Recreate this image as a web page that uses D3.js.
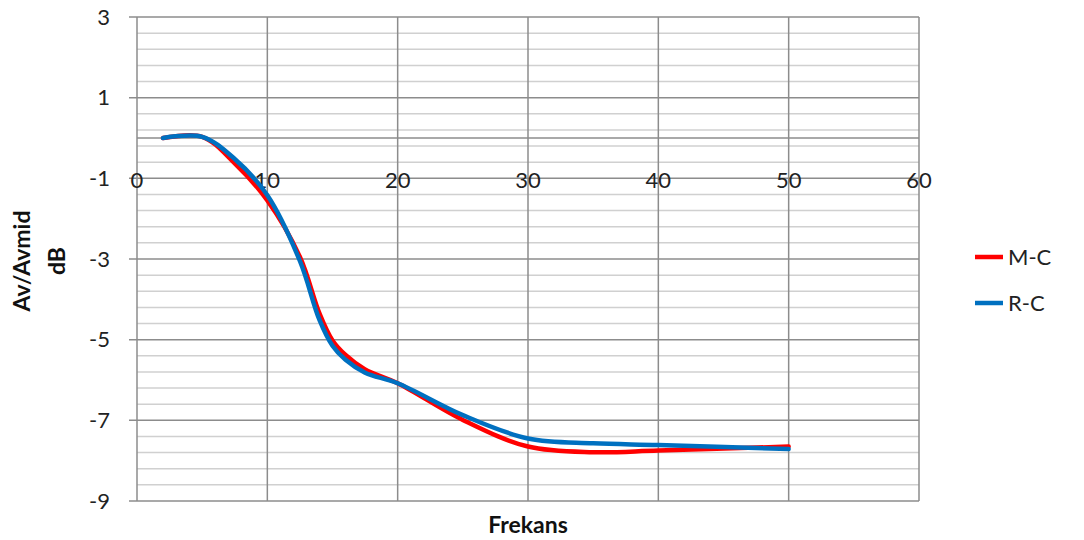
<!DOCTYPE html>
<html>
<head>
<meta charset="utf-8">
<script src="https://cdn.jsdelivr.net/npm/d3@7"></script>
<style>
  html, body { margin: 0; padding: 0; background: #ffffff; }
  svg { display: block; font-family: Lato, "Open Sans", sans-serif; }
</style>
</head>
<body>
<svg id="chart" width="1084" height="540"></svg>
<script>
// Frequency response of the two coupling variants (gain relative to mid-band, dB)
const frequencies = [2, 5, 7.5, 10, 12.5, 14, 15, 16, 17.5, 20, 25, 30, 35, 40, 50];
const mcValues = [0, 0.03, -0.63, -1.55, -2.95, -4.35, -5.02, -5.38, -5.74, -6.08, -6.99, -7.65, -7.79, -7.75, -7.65];
const rcValues = [0, 0.03, -0.52, -1.42, -3.05, -4.51, -5.15, -5.5, -5.82, -6.08, -6.87, -7.45, -7.57, -7.61, -7.71];

const seriesNames = ["M-C", "R-C"];
const seriesColors = ["#ff0000", "#0070c0"];

const xTicks = [0, 10, 20, 30, 40, 50, 60];
const yTicks = [-9, -7, -5, -3, -1, 1, 3];
const yMinorStep = 0.4;

const xTitle = "Frekans";
const yTitleLines = ["Av/Avmid", "dB"];

const svg = d3.select("#chart");

const plot = { left: 137, right: 919, top: 17, bottom: 501 };

const x = d3.scaleLinear().domain([0, 60]).range([plot.left, plot.right]);
const y = d3.scaleLinear().domain([-9, 3]).range([plot.bottom, plot.top]);

// minor horizontal gridlines
const minorVals = d3.range(-9, 3.0001, yMinorStep)
  .map(v => Math.round(v * 10) / 10)
  .filter(v => !yTicks.includes(v));

svg.append("g")
  .selectAll("line")
  .data(minorVals)
  .join("line")
  .attr("x1", plot.left).attr("x2", plot.right)
  .attr("y1", d => y(d)).attr("y2", d => y(d))
  .attr("stroke", "#d0d0d0")
  .attr("stroke-width", 1.5);

// major horizontal gridlines (with ticks out to the left)
svg.append("g")
  .selectAll("line")
  .data(yTicks)
  .join("line")
  .attr("x1", plot.left - 8).attr("x2", plot.right)
  .attr("y1", d => y(d)).attr("y2", d => y(d))
  .attr("stroke", "#8c8c8c")
  .attr("stroke-width", 1.5);

// vertical gridlines
svg.append("g")
  .selectAll("line")
  .data(xTicks)
  .join("line")
  .attr("x1", d => x(d)).attr("x2", d => x(d))
  .attr("y1", plot.top).attr("y2", plot.bottom)
  .attr("stroke", "#8c8c8c")
  .attr("stroke-width", 1.5);

// horizontal axis line at 0 dB
svg.append("line")
  .attr("x1", plot.left).attr("x2", plot.right)
  .attr("y1", y(0)).attr("y2", y(0))
  .attr("stroke", "#8c8c8c")
  .attr("stroke-width", 1.5);

// y tick labels
svg.append("g")
  .selectAll("text")
  .data(yTicks)
  .join("text")
  .attr("x", plot.left - 27)
  .attr("y", d => y(d))
  .attr("dy", "0.35em")
  .attr("text-anchor", "end")
  .attr("font-size", 22)
  .attr("fill", "#222")
  .text(d => d);

// x tick labels, sitting below the 0 dB axis line
svg.append("g")
  .selectAll("text")
  .data(xTicks)
  .join("text")
  .attr("x", d => x(d))
  .attr("y", y(0) + 42)
  .attr("dy", "0.35em")
  .attr("text-anchor", "middle")
  .attr("font-size", 22)
  .attr("fill", "#222")
  .text(d => d);

// series lines (smoothed)
const line = d3.line()
  .x(d => x(d[0]))
  .y(d => y(d[1]))
  .curve(d3.curveCatmullRom.alpha(0.5));

const series = [
  frequencies.map((f, i) => [f, mcValues[i]]),
  frequencies.map((f, i) => [f, rcValues[i]])
];

svg.append("g")
  .selectAll("path")
  .data(series)
  .join("path")
  .attr("d", line)
  .attr("fill", "none")
  .attr("stroke", (d, i) => seriesColors[i])
  .attr("stroke-width", 4.5)
  .attr("stroke-linejoin", "round")
  .attr("stroke-linecap", "round");

// axis titles
svg.append("text")
  .attr("x", 528)
  .attr("y", 525)
  .attr("dy", "0.35em")
  .attr("text-anchor", "middle")
  .attr("font-size", 23)
  .attr("font-weight", "bold")
  .attr("fill", "#111")
  .text(xTitle);

svg.append("g")
  .selectAll("text")
  .data(yTitleLines)
  .join("text")
  .attr("transform", (d, i) => `translate(${i === 0 ? 22 : 57}, 261) rotate(-90)`)
  .attr("dy", "0.35em")
  .attr("text-anchor", "middle")
  .attr("font-size", 23)
  .attr("font-weight", "bold")
  .attr("fill", "#111")
  .text(d => d);

// legend
const legend = svg.append("g")
  .selectAll("g")
  .data(seriesNames)
  .join("g")
  .attr("transform", (d, i) => `translate(975, ${257 + i * 46})`);

legend.append("line")
  .attr("x1", 0).attr("x2", 28)
  .attr("stroke", (d, i) => seriesColors[i])
  .attr("stroke-width", 4.5);

legend.append("text")
  .attr("x", 33)
  .attr("dy", "0.35em")
  .attr("font-size", 22)
  .attr("fill", "#222")
  .text(d => d);
</script>
</body>
</html>
